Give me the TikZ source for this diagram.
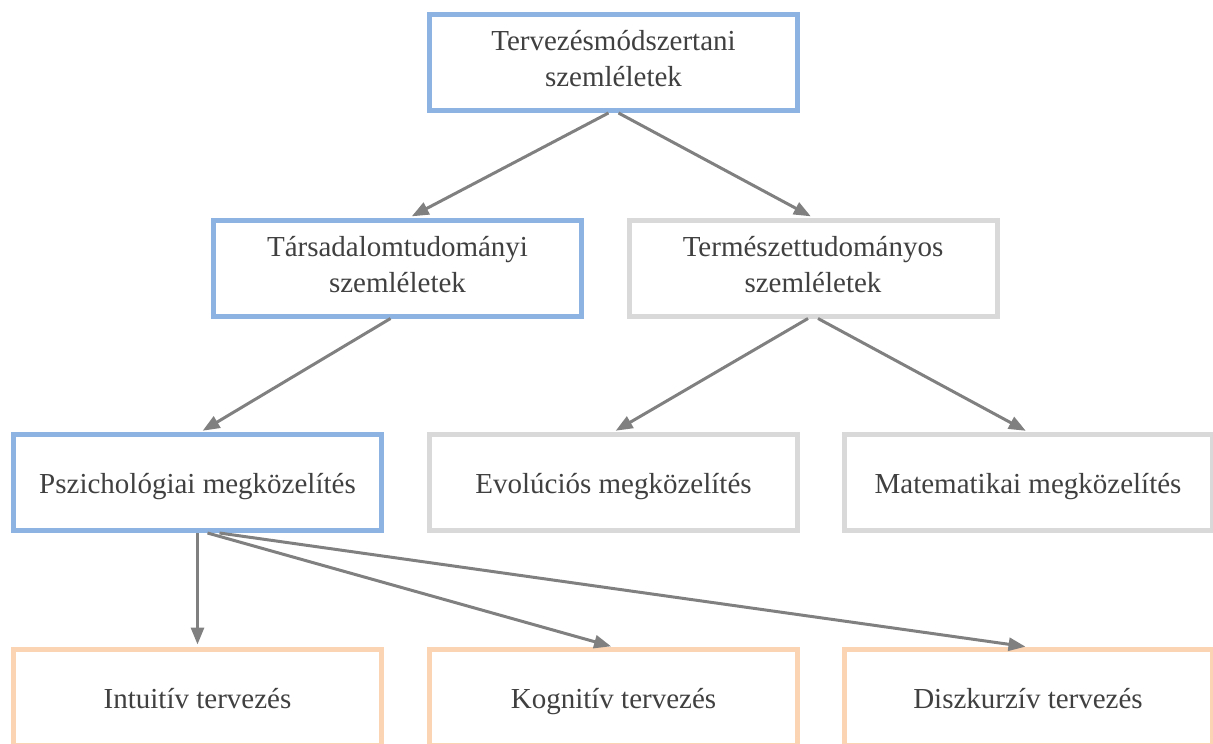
\documentclass[tikz,border=0pt]{standalone}
\usepackage{fontspec}
\setmainfont{Liberation Serif}
\usetikzlibrary{arrows.meta}
\definecolor{boxblue}{HTML}{8DB3E2}
\definecolor{boxgray}{HTML}{D9D9D9}
\definecolor{boxpeach}{HTML}{FBD4B4}
\definecolor{linkgray}{HTML}{808080}
\definecolor{textgray}{HTML}{404040}

\begin{document}
\begin{tikzpicture}[x=1pt,y=-1pt,
  box/.style={draw, line width=5pt, fill=white, minimum width=368pt, minimum height=96pt, inner sep=0pt, align=center, text=textgray, font=\fontsize{29}{36}\selectfont, execute at begin node={\rule{0pt}{30pt}}, execute at end node={\rule[-8pt]{0pt}{8pt}}},
  bluebox/.style={box, draw=boxblue},
  graybox/.style={box, draw=boxgray},
  peachbox/.style={box, draw=boxpeach},
  link/.style={draw=linkgray, line width=3pt, -{Triangle[length=17pt,width=13pt]}, shorten >=2.5pt}]
\useasboundingbox (0,0) rectangle (1213,744);
\clip (0,0) rectangle (1213,744);
% levels
\node[bluebox] (szeml) at (613.5,62.5) {Tervezésmódszertani\\szemléletek};
\node[bluebox] (tars) at (397.5,268) {Társadalomtudományi\\szemléletek};
\node[graybox] (term) at (813,268) {Természettudományos\\szemléletek};
\node[bluebox] (pszich) at (197.5,482.5) {Pszichológiai megközelítés};
\node[graybox] (evol) at (613.5,482.5) {Evolúciós megközelítés};
\node[graybox] (matem) at (1028,482.5) {Matematikai megközelítés};
\node[peachbox] (intu) at (197.5,697.5) {Intuitív tervezés};
\node[peachbox] (kogn) at (613.5,697.5) {Kognitív tervezés};
\node[peachbox] (diszk) at (1028,697.5) {Diszkurzív tervezés};
% links
\draw[link] ([xshift=-5pt]szeml.south) -- ([xshift=12pt]tars.north);
\draw[link] ([xshift=5pt]szeml.south) -- (term.north);
\draw[link] ([xshift=-7pt]tars.south) -- ([xshift=3pt]pszich.north);
\draw[link] ([xshift=-5pt]term.south) -- (evol.north);
\draw[link] ([xshift=5pt]term.south) -- (matem.north);
\draw[link] (pszich.south) -- (intu.north);
\draw[link] ([xshift=10pt]pszich.south) -- (kogn.north);
\draw[link] ([xshift=22pt]pszich.south) -- (diszk.north);
\end{tikzpicture}
\end{document}
